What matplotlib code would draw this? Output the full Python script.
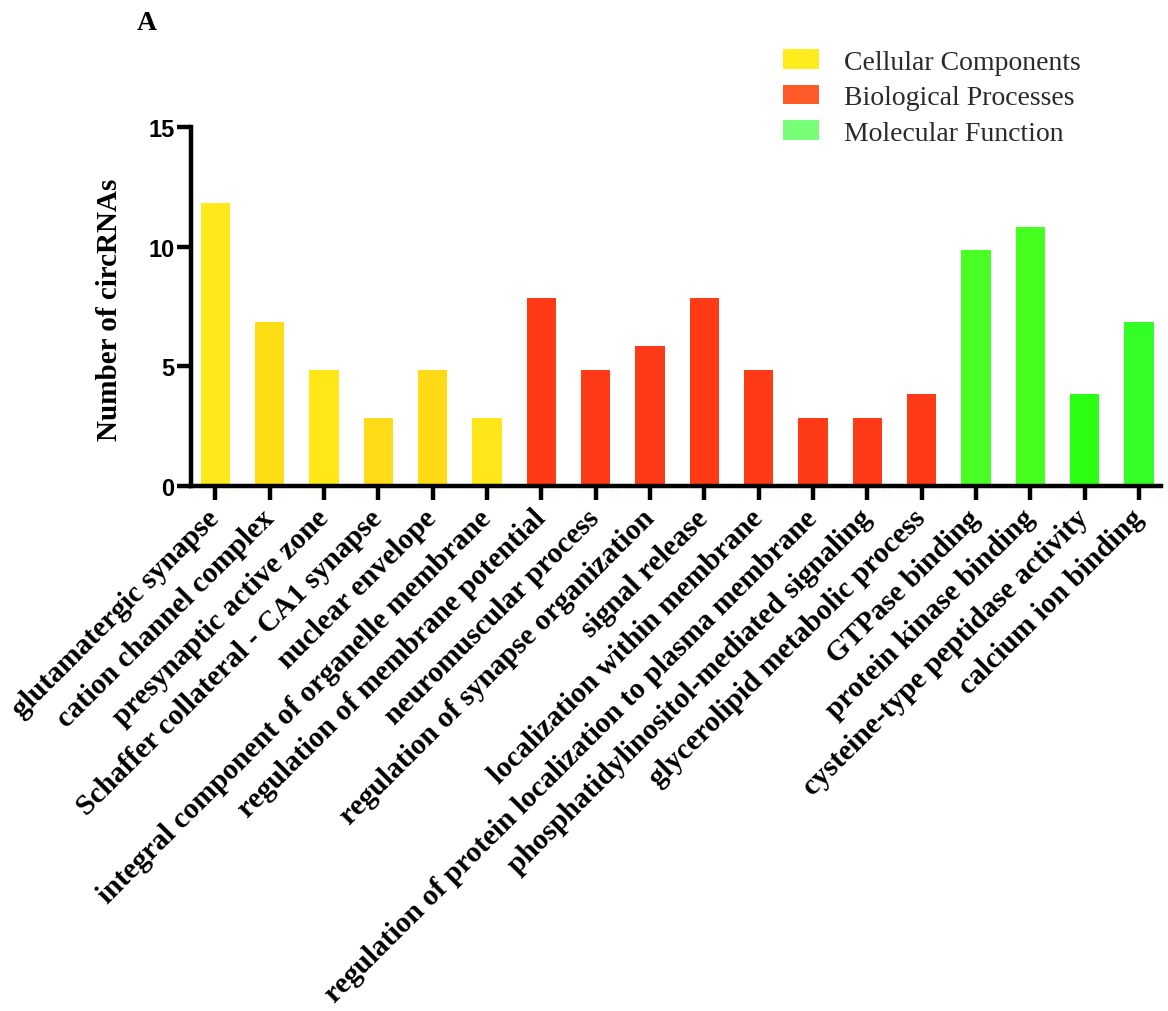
import matplotlib
matplotlib.use('Agg')
import matplotlib.pyplot as plt
from matplotlib.patches import Patch

# 数据
terms = ['glutamatergic synapse', 'cation channel complex', 'presynaptic active zone',
         'Schaffer collateral - CA1 synapse', 'nuclear envelope',
         'integral component of organelle membrane',
         'regulation of membrane potential', 'neuromuscular process',
         'regulation of synapse organization', 'signal release',
         'localization within membrane',
         'regulation of protein localization to plasma membrane',
         'phosphatidylinositol-mediated signaling', 'glycerolipid metabolic process',
         'GTPase binding', 'protein kinase binding', 'cysteine-type peptidase activity',
         'calcium ion binding']
counts = [11.85, 6.85, 4.85, 2.85, 4.85, 2.85,
          7.85, 4.85, 5.85, 7.85, 4.85, 2.85, 2.85, 3.85,
          9.85, 10.85, 3.85, 6.85]
bar_colors = ['#FFE91C', '#FFDD14', '#FFE816', '#FFDC17', '#FFDB16', '#FFE71A',
              '#FF3A17', '#FF3A17', '#FF3A17', '#FF3A17', '#FF3A17', '#FF3A17', '#FF3A17', '#FF3A17',
              '#4AFF26', '#45FF1F', '#2BFF14', '#33FF26']
groups = ['Cellular Components', 'Biological Processes', 'Molecular Function']
group_colors = ['#FFEB1E', '#FF5A2A', '#77FF77']

serif = 'Liberation Serif'
sans = 'Liberation Sans'

fig = plt.figure(figsize=(11.68, 10.12), dpi=100)
ax = fig.add_axes([191 / 1168, 1 - 487 / 1012, (1160.7 - 191) / 1168, (487 - 128.3) / 1012])

x = list(range(len(terms)))
ax.bar(x, counts, width=0.54, color=bar_colors, edgecolor='none')

ax.set_xlim(-0.45, len(terms) - 1 + 0.4)
ax.set_ylim(0, 15)
ax.set_yticks([0, 5, 10, 15])
ax.set_xticks(x)
ax.set_xticklabels(terms, rotation=45, ha='right', va='center', rotation_mode='anchor',
                   fontsize=21.25, fontweight='bold', family=serif)
for lab in ax.get_yticklabels():
    lab.set_fontfamily(sans)
    lab.set_fontweight('bold')
    lab.set_fontsize(17)

for s in ['top', 'right']:
    ax.spines[s].set_visible(False)
for s in ['left', 'bottom']:
    ax.spines[s].set_linewidth(3.2)
ax.tick_params(axis='both', width=3.2, length=10)
ax.tick_params(axis='y', pad=2)
ax.tick_params(axis='x', pad=10)

ax.set_ylabel('Number of circRNAs', fontsize=21, fontweight='bold', family=serif)
ax.yaxis.set_label_coords(-0.070, 0.493)

handles = [Patch(facecolor=c, edgecolor='none') for c in group_colors]
fig.legend(handles, groups, loc='upper left', bbox_to_anchor=(783 / 1168, 1 - 50 / 1012),
           frameon=False, prop={'family': serif, 'size': 20}, labelcolor='#2a2a2a',
           handlelength=1.3, handleheight=0.72, handletextpad=0.9, labelspacing=0.36,
           borderpad=0, borderaxespad=0)

fig.text(147 / 1168, 1 - 30 / 1012, 'A', fontsize=20, fontweight='bold', family=serif,
         ha='center', va='baseline')

fig.savefig('out.png', dpi=100)
